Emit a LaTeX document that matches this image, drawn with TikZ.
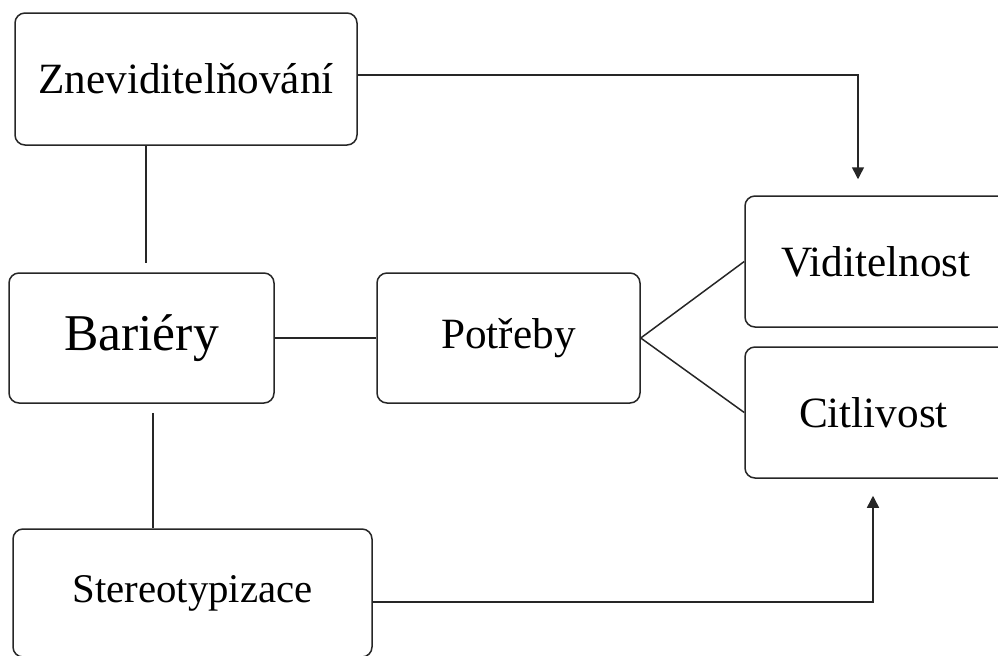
\documentclass[tikz,border=0pt]{standalone}
\usepackage{fontspec}
\setmainfont{Liberation Serif}
\usepackage{tikz}
\usetikzlibrary{arrows.meta}
\tikzstyle{block} = [rectangle, rounded corners=5pt, inner sep=0pt, text centered, draw=black!85, line width=0.75pt, font=\fontsize{21.6}{26}\selectfont]
\tikzstyle{link} = [line width=0.75pt, draw=black!85]
\tikzstyle{arrow} = [line width=0.75pt, draw=black!85, -{Triangle[length=6pt,width=6pt]}]

\begin{document}
\begin{tikzpicture}
    \useasboundingbox (0,0) rectangle (499pt,-327.5pt);
    \clip (0,0) rectangle (499pt,-327.5pt);

    \node (zned) [block, minimum width=171pt, minimum height=66pt] at (93pt,-39.5pt) {Zneviditelňování};
    \node (bar) [block, minimum width=132.5pt, minimum height=65pt, font=\fontsize{25.8}{30}\selectfont] at (70.75pt,-169pt) {Bariéry};
    \node (pot) [block, minimum width=131.5pt, minimum height=65pt] at (254.25pt,-169pt) {Potřeby};
    \node (vid) [block, minimum width=134pt, minimum height=65.5pt, text width=129pt, align=left] at (439.5pt,-130.75pt) {\hspace*{15.5pt}Viditelnost};
    \node (cit) [block, minimum width=134pt, minimum height=65.5pt, text width=129pt, align=left] at (439.5pt,-206.25pt) {\hspace*{24.5pt}Citlivost};
    \node (ster) [block, minimum width=179.5pt, minimum height=64pt, font=\fontsize{20.4}{24}\selectfont] at (96.25pt,-296.5pt) {Stereotypizace};

    \draw [link, shorten >=4.5pt] ([xshift=2.25pt]bar.north |- zned.south) -- ([xshift=2.25pt]bar.north);
    \draw [link, shorten <=4.5pt] ([xshift=5.75pt]bar.south) -- ([xshift=5.75pt]bar.south |- ster.north);
    \draw [link] (bar) -- (pot);
    \draw [link] (pot.east) -- (vid.west);
    \draw [link] (pot.east) -- (cit.west);
    \draw [arrow, shorten >=8pt] ([yshift=2pt]zned.east) -| ([xshift=-10.5pt]vid.north);
    \draw [arrow, shorten >=8.5pt] ([yshift=-4.5pt]ster.east) -| ([xshift=-3pt]cit.south);
\end{tikzpicture}
\end{document}
